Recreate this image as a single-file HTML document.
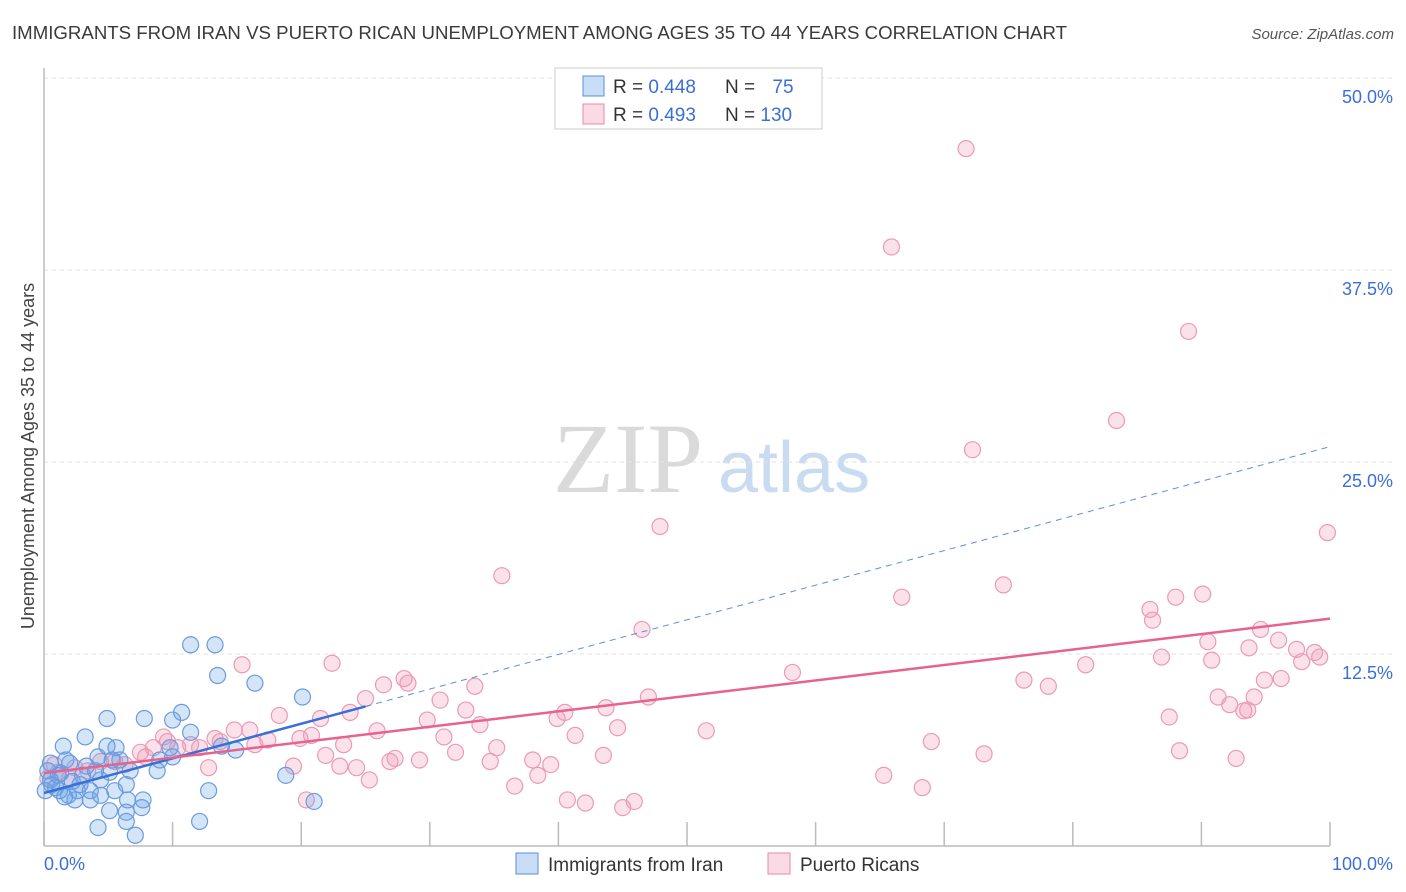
<!DOCTYPE html>
<html><head><meta charset="utf-8"><style>
body{margin:0;background:#fff;font-family:"Liberation Sans",sans-serif;}
svg{display:block}
</style></head><body>
<svg id="chart" width="1406" height="892" xmlns="http://www.w3.org/2000/svg">
<text x="12" y="39" font-size="18" fill="#3a3a3a" textLength="1055" lengthAdjust="spacingAndGlyphs">IMMIGRANTS FROM IRAN VS PUERTO RICAN UNEMPLOYMENT AMONG AGES 35 TO 44 YEARS CORRELATION CHART</text>
<text x="1394" y="39" font-size="15" fill="#555" font-style="italic" text-anchor="end">Source: ZipAtlas.com</text>
<g>
<text x="553" y="492" font-size="100" font-family="Liberation Serif,serif" fill="#dadada">ZIP</text>
<text x="718" y="492" font-size="72" fill="#c9dbf0">atlas</text>
</g>
<g id="grid"></g>
<g id="axes"></g>
<g id="pts"></g>
<g id="lines"></g>
<text transform="translate(34,456) rotate(-90)" font-size="18" fill="#444" text-anchor="middle">Unemployment Among Ages 35 to 44 years</text>
<g>
<rect x="555" y="68" width="267" height="61" fill="#fff" stroke="#ccc"/>
<rect x="583" y="76" width="21" height="20" fill="rgba(100,160,230,0.35)" stroke="#5a8fd8"/>
<rect x="583" y="104" width="21" height="20" fill="rgba(240,150,180,0.35)" stroke="#e88aa8"/>
<text x="613" y="93" font-size="19" fill="#333">R = <tspan fill="#3a6fd8">0.448</tspan></text>
<text x="725" y="93" font-size="19" fill="#333">N = <tspan fill="#3a6fd8" dx="12">75</tspan></text>
<text x="613" y="121" font-size="19" fill="#333">R = <tspan fill="#3a6fd8">0.493</tspan></text>
<text x="725" y="121" font-size="19" fill="#333">N = <tspan fill="#3a6fd8">130</tspan></text>
</g>
<g>
<rect x="516" y="853" width="22" height="21" fill="rgba(100,160,230,0.35)" stroke="#5a8fd8"/>
<text x="548" y="871" font-size="19" fill="#333">Immigrants from Iran</text>
<rect x="768" y="853" width="22" height="21" fill="rgba(240,150,180,0.35)" stroke="#e88aa8"/>
<text x="800" y="871" font-size="19" fill="#333">Puerto Ricans</text>
</g>
</svg>
<script>
const yTicks=[12.5,25,37.5,50];
const yTickLabels=["12.5%","25.0%","37.5%","50.0%"];
const xTicks=[0,10,20,30,40,50,60,70,80,90,100];
const iranX=[11.4,13.3,13.5,16.4,20.1,10.7,4.9,7.8,10.0,11.4,3.2,1.5,4.9,5.6,13.8,14.9,10.0,8.8,9.0,6.7,4.2,3.3,2.0,1.3,0.5,0.5,0.9,1.2,1.9,2.8,3.6,4.4,5.5,6.4,4.4,5.1,2.4,1.6,3.6,5.1,6.5,7.7,7.6,6.4,4.2,6.4,7.1,12.8,12.1,18.8,21.0,0.6,1.1,0.1,0.3,2.2,3.0,4.0,5.9,1.7,9.8,5.3,2.6];
const iranY=[13.1,13.1,11.1,10.6,9.7,8.7,8.3,8.3,8.2,7.4,7.1,6.5,6.5,6.4,6.5,6.25,5.8,4.9,5.6,4.9,5.8,5.2,5.4,4.75,5.4,4.3,3.8,3.6,3.3,4.0,3.6,3.3,3.6,4.0,4.3,4.8,3.0,3.2,3.0,2.3,3.0,3.0,2.5,2.2,1.2,1.6,0.7,3.6,1.6,4.6,2.9,4.0,4.6,3.6,4.9,4.2,4.6,4.9,5.6,5.6,6.4,5.6,3.6];
const prX=[71.7,65.9,89.0,83.4,72.2,47.9,99.8,35.6,74.6,66.7,88.0,90.1,86.0,86.2,46.5,94.6,96.0,90.5,93.7,97.4,98.8,99.2,97.8,86.9,90.8,81.0,58.2,15.4,22.4,96.2,94.9,76.2,78.1,26.4,28.0,28.3,33.5,91.3,92.2,94.1,93.3,93.6,47.0,25.0,30.8,32.8,43.7,40.5,23.8,21.5,18.3,29.8,33.9,31.1,39.9,87.5,51.5,44.6,41.3,25.9,69.0,14.8,13.3,19.9,20.8,23.3,17.4,16.4,35.2,32.0,43.5,73.1,88.3,27.3,29.2,38.0,39.4,34.7,26.9,21.9,24.3,23.0,19.4,92.7,38.4,25.3,36.6,65.3,68.3,20.4,40.7,42.1,45.0,45.9,12.8,9.3,8.5,7.5,10.4,11.4,12.1,13.7,6.3,5.5,4.4,3.4,2.4,1.1,0.3,0.8,2.0,9.6,7.9,16.0];
const prY=[45.4,39.0,33.5,27.7,25.8,20.8,20.4,17.6,17.0,16.2,16.2,16.4,15.4,14.7,14.1,14.1,13.4,13.3,12.9,12.8,12.6,12.3,12.0,12.3,12.1,11.8,11.3,11.8,11.9,10.9,10.8,10.8,10.4,10.5,10.9,10.6,10.4,9.7,9.2,9.7,8.8,8.85,9.7,9.6,9.5,8.85,9.0,8.7,8.7,8.3,8.5,8.2,7.9,7.1,8.3,8.4,7.5,7.7,7.2,7.5,6.8,7.55,7.0,7.0,7.2,6.6,6.9,6.6,6.4,6.1,5.9,6.0,6.2,5.7,5.6,5.6,5.3,5.5,5.5,5.9,5.1,5.2,5.2,5.7,4.6,4.3,3.9,4.6,3.8,3.0,3.0,2.8,2.5,2.9,5.1,7.1,6.4,6.1,6.4,6.6,6.4,6.8,5.3,5.5,5.5,4.9,5.1,4.8,4.4,5.3,4.4,6.8,5.8,7.55];
const iranTrend=[3.45,26.0];
const iranSolidEnd=25;
const prTrend=[4.75,14.8];

const NS="http://www.w3.org/2000/svg";
const X=v=>44+v*12.86;
const Y=v=>846-v*15.36;
function mk(tag,attrs,parent){const e=document.createElementNS(NS,tag);for(const k in attrs)e.setAttribute(k,attrs[k]);document.getElementById(parent).appendChild(e);return e;}
yTicks.forEach((t,i)=>{
  const g=mk('line',{x1:44,x2:1394,y1:Y(t),y2:Y(t),stroke:'#e2e2e2','stroke-dasharray':'4,4'},'grid');
  
  
  const l=mk('text',{x:1393,y:Y(t)+25,'font-size':18,fill:'#3a6fd8','text-anchor':'end'},'grid');
  l.textContent=yTickLabels[i];
  
  
});
const ya=mk('line',{x1:44,x2:44,y1:68,y2:846,stroke:'#bbb','stroke-width':1.5},'axes');


const xa=mk('line',{x1:44,x2:1330,y1:846,y2:846,stroke:'#bbb','stroke-width':1.5},'axes');


xTicks.forEach(t=>{
  const k=mk('line',{x1:X(t),x2:X(t),y1:822,y2:846,stroke:'#bbb','stroke-width':1.5},'axes');
  
  
});
const x0=mk('text',{x:44,y:870,'font-size':18,fill:'#3a6fd8'},'axes');x0.textContent='0.0%';


const x1=mk('text',{x:1393,y:870,'font-size':18,fill:'#3a6fd8','text-anchor':'end'},'axes');x1.textContent='100.0%';


prX.forEach((v,i)=>{
  const c=mk('circle',{cx:X(v),cy:Y(prY[i]),r:8,fill:'rgba(240,150,180,0.28)',stroke:'#eb9ab4','stroke-width':1.2},'pts');
  
  
});
iranX.forEach((v,i)=>{
  const c=mk('circle',{cx:X(v),cy:Y(iranY[i]),r:8,fill:'rgba(100,160,230,0.28)',stroke:'#6a9be0','stroke-width':1.2},'pts');
  
  
});
const iy=x=>iranTrend[0]+(iranTrend[1]-iranTrend[0])*x/100;
const d=mk('line',{x1:X(iranSolidEnd),y1:Y(iy(iranSolidEnd)),x2:X(100),y2:Y(iy(100)),stroke:'#5a8fd8','stroke-width':1,'stroke-dasharray':'6,5'},'lines');


const s=mk('line',{x1:X(0),y1:Y(iy(0)),x2:X(iranSolidEnd),y2:Y(iy(iranSolidEnd)),stroke:'#3a6fd8','stroke-width':2.5},'lines');


const p=mk('line',{x1:X(0),y1:Y(prTrend[0]),x2:X(100),y2:Y(prTrend[1]),stroke:'#e8628f','stroke-width':2.5},'lines');


</script>
</body></html>
